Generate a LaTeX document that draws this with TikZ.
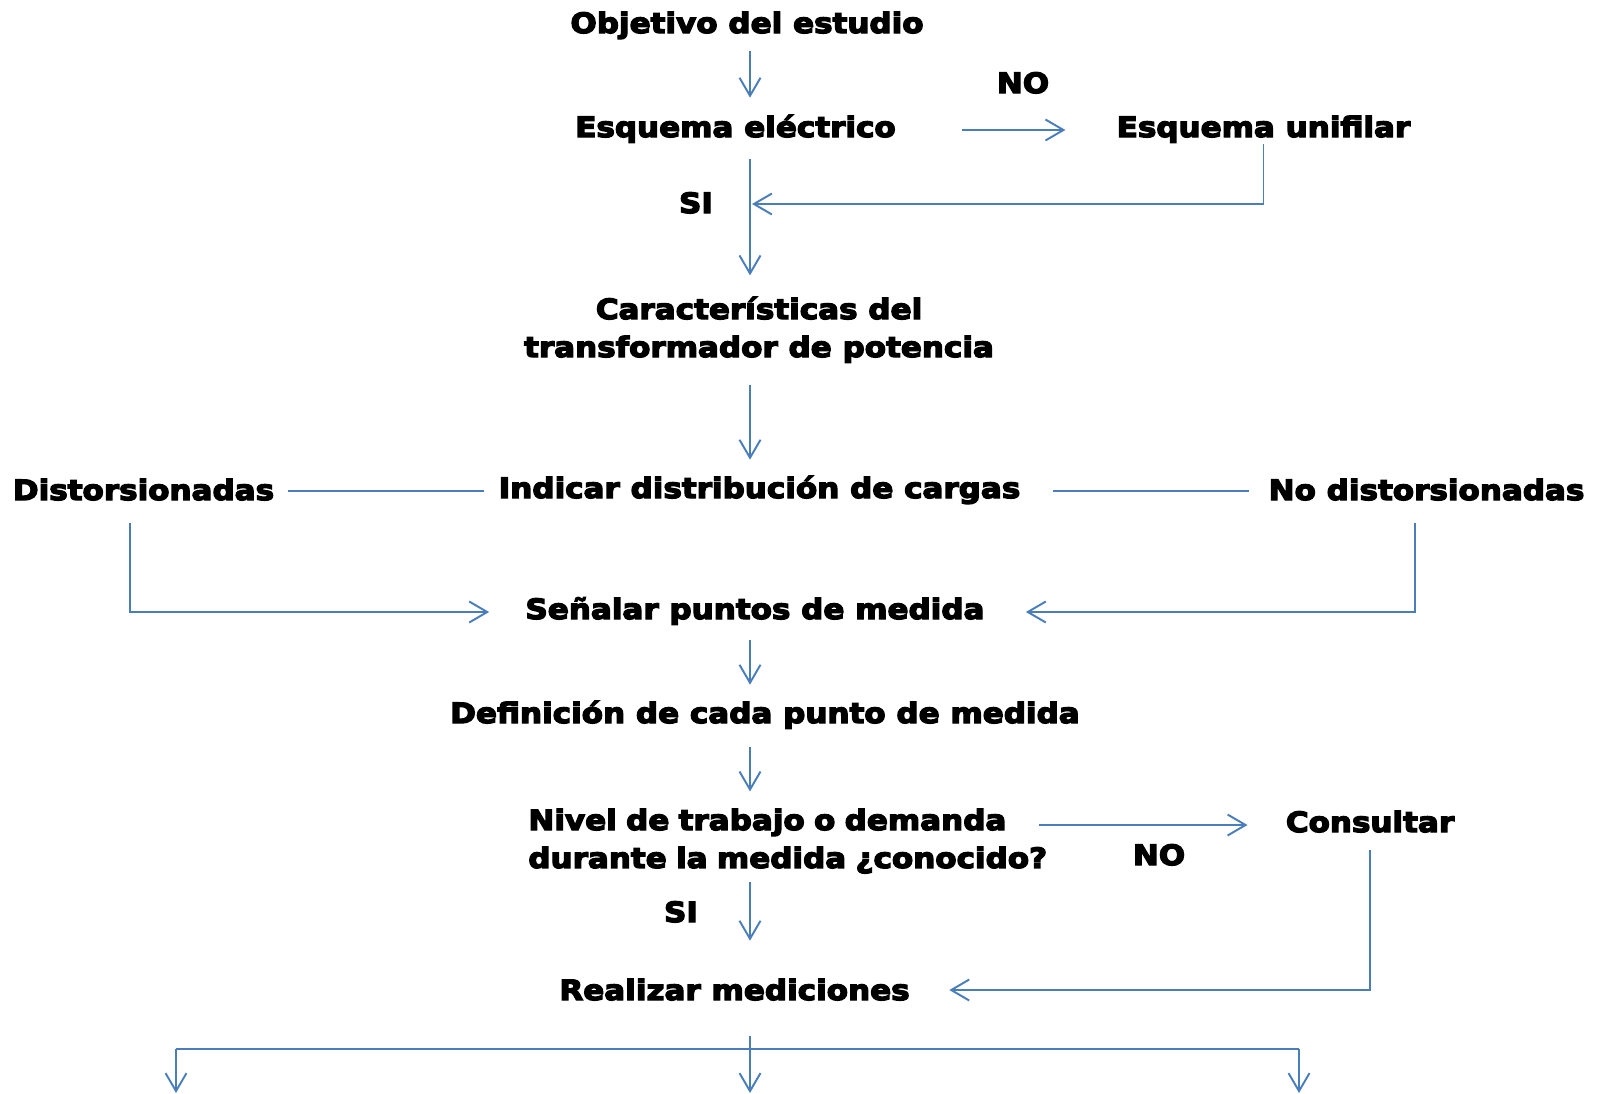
\documentclass[tikz,border=0pt]{standalone}
\usepackage{fontspec}
\newfontfamily\heavyfont{DejaVu Sans Bold}[FakeStretch=1.11]
\newcommand\thicktext{\special{pdf:literal direct 2 Tr 0.75 w}}
\usetikzlibrary{arrows.meta,calc}
\definecolor{linkblue}{RGB}{74,126,187}

\begin{document}
\begin{tikzpicture}[x=0.02cm,y=-0.02cm,
  txt/.style={font=\fontsize{15.9pt}{21.6pt}\heavyfont\thicktext,inner sep=0pt},
  box/.style={txt,anchor=base,text height=0.42cm,text depth=0.14cm},
  plain/.style={draw=linkblue,line width=1.1pt},
  link/.style={plain,-{Straight Barb[length=0.36cm,width=0.42cm]}}]

\useasboundingbox (0,0) rectangle (1604,1093);

\node [box,minimum width=6.96cm] (obj) at (747,33) {Objetivo del estudio};
\node [box,minimum width=6.5cm] (esq) at (735.5,137) {Esquema eléctrico};
\node [box,minimum width=5.86cm] (unif) at (1263.5,137) {Esquema unifilar};
\node [box] (no1) at (1023,93) {NO};
\node [box] (si1) at (696,213) {SI};
\node [txt,anchor=base,align=center] (car) at (759,357) {Características del\\transformador de potencia};
\node [box,minimum width=5.22cm] (dist) at (143.5,500) {Distorsionadas};
\node [box,minimum width=10.46cm] (ind) at (759.5,498) {Indicar distribución de cargas};
\node [box,minimum width=6.34cm] (nodist) at (1426.5,500) {No distorsionadas};
\node [box,minimum width=9.08cm] (sen) at (755,619) {Señalar puntos de medida};
\node [box,minimum width=12.52cm] (def) at (765,723) {Definición de cada punto de medida};
\node [txt,anchor=base west,align=left,text width=10.52cm] (niv) at (528,830) {Nivel de trabajo o demanda\\durante la medida ¿conocido?};
\node [box,minimum width=3.36cm] (cons) at (1370,832) {Consultar};
\node [box] (no2) at (1159,865) {NO};
\node [box] (si2) at (681,922) {SI};
\node [box,minimum width=7.02cm] (real) at (734.5,1000) {Realizar mediciones};

% main column
\coordinate (col) at (750,0);
\coordinate (j1) at (752,204);
\draw [link,shorten <=0.22cm,shorten >=0.36cm] (obj.south -| col) -- (esq.north -| col);
\draw [link,shorten <=1.28cm,shorten >=1.02cm] (esq.east) -- (unif.west);
\draw [link] (unif.south) |- (j1);
\draw [link,shorten <=0.3cm,shorten >=0.42cm] (esq.south -| col) -- (car.north -| col);
\draw [link,shorten <=0.44cm,shorten >=0.34cm] (car.south -| col) -- (ind.north -| col);

% loads
\draw [plain,shorten <=0.28cm,shorten >=0.28cm] (ind.west -| dist.east) -- (ind.west);
\draw [plain,shorten <=0.64cm,shorten >=0.38cm] (ind.east) -- (ind.east -| nodist.west);
\draw [link,shorten <=0.32cm,shorten >=0.72cm] ([xshift=-0.27cm]dist.south) |- (sen.west);
\draw [link,shorten <=0.32cm,shorten >=0.82cm] ([xshift=-0.23cm]nodist.south) |- (sen.east);

\draw [link,shorten <=0.28cm,shorten >=0.34cm] (sen.south -| col) -- (def.north -| col);
\draw [link,shorten <=0.34cm,shorten >=0.34cm] (def.south -| col) -- (niv.north -| col);
\draw [link,shorten <=-0.32cm,shorten >=0.76cm] (cons.west -| niv.east) -- (cons.west);
\draw [link,shorten <=0.16cm,shorten >=0.76cm] (niv.south -| col) -- (real.north -| col);
\draw [link,shorten <=0.22cm,shorten >=0.78cm] (cons.south) |- ([yshift=0.06cm]real.east);

% outputs
\coordinate (bar) at (750,1049);
\coordinate (outL) at (176,1093);
\coordinate (outC) at (750,1093);
\coordinate (outR) at (1299,1093);
\draw [plain] (bar -| outL) -- (bar -| outR);
\draw [link] (bar -| outL) -- (outL);
\draw [link] (bar -| outR) -- (outR);
\draw [link,shorten <=0.58cm] (real.south -| col) -- (outC);

\end{tikzpicture}
\end{document}
